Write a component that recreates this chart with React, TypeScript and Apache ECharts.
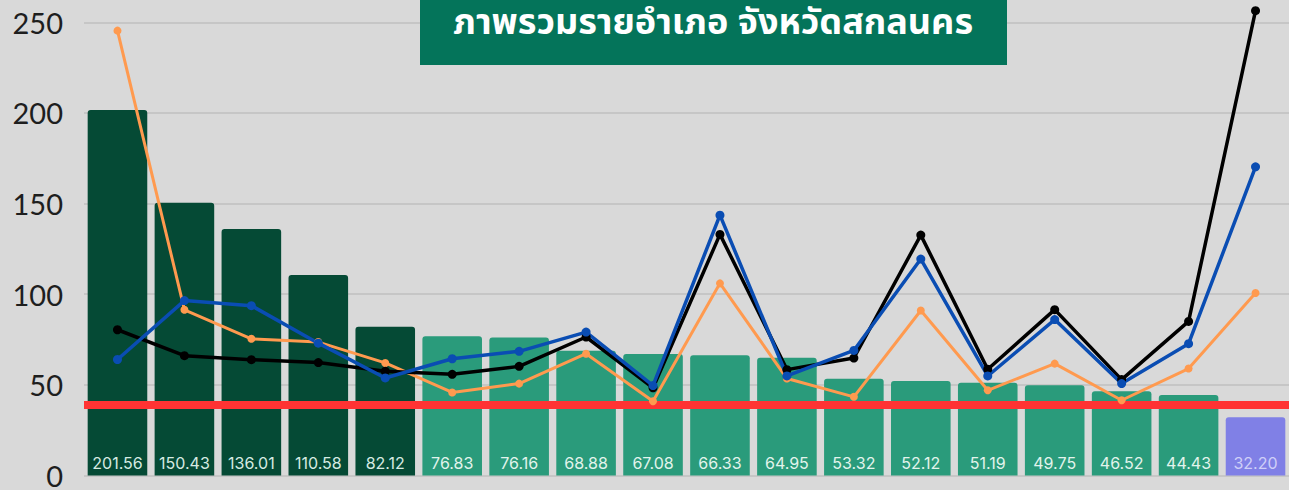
import React, { useEffect, useRef } from "react";
import * as echarts from "echarts";

const categories = [
  "1", "2", "3", "4", "5", "6", "7", "8", "9",
  "10", "11", "12", "13", "14", "15", "16", "17", "18",
];
const barValues = [
  201.56, 150.43, 136.01, 110.58, 82.12, 76.83, 76.16, 68.88, 67.08,
  66.33, 64.95, 53.32, 52.12, 51.19, 49.75, 46.52, 44.43, 32.2,
];
const barGroups = [
  "dark", "dark", "dark", "dark", "dark", "mid", "mid", "mid", "mid",
  "mid", "mid", "mid", "mid", "mid", "mid", "mid", "mid", "purple",
];
const blackLine = [
  80.4, 66.1, 63.9, 62.3, 57.5, 55.8, 60.2, 76.4, 48.4,
  133, 58.4, 64.8, 132.6, 58.6, 91.5, 52.9, 85, 256.4,
];
const blueLine = [
  64, 96.5, 93.7, 73, 53.8, 64.4, 68.5, 79.1, 49.6,
  143.6, 54.9, 69, 119.4, 54.9, 86, 50.7, 72.7, 170.3,
];
const orangeLine = [
  245.4, 91.4, 75.4, 73.6, 62.1, 45.8, 50.7, 67.2, 41,
  106, 53.5, 43.4, 91, 47, 61.7, 41.5, 59, 100.7,
];
const thresholdValue = 39;
const yTicks = { min: 0, max: 250, interval: 50 };
const titleText = "ภาพรวมรายอำเภอ จังหวัดสกลนคร";

const groupColors: Record<string, string> = {
  dark: "#054a35",
  mid: "#2a9b7b",
  purple: "#8080e6",
};
const labelColors: Record<string, string> = {
  dark: "#d6ebe2",
  mid: "#e2f4ec",
  purple: "#cfcff8",
};

export default function App() {
  const ref = useRef<HTMLDivElement>(null);
  useEffect(() => {
    if (!ref.current) return;
    const chart = echarts.init(ref.current, undefined, { renderer: "svg" });
    const lineCommon = {
      type: "line" as const,
      symbol: "circle",
      symbolSize: 9,
      clip: false,
      z: 5,
    };
    chart.setOption({
      animation: false,
      backgroundColor: "#d9d9d9",
      grid: { left: 84, top: 22.3, width: 1213, height: 455 },
      xAxis: {
        type: "category",
        data: categories,
        axisLine: { show: false },
        axisTick: { show: false },
        axisLabel: { show: false },
      },
      yAxis: {
        type: "value",
        min: yTicks.min,
        max: yTicks.max,
        interval: yTicks.interval,
        axisLine: { show: false },
        axisTick: { show: false },
        splitLine: { lineStyle: { color: "#bfbfbf", width: 1.5 } },
        axisLabel: {
          color: "#1e1e1e",
          fontSize: 29,
          fontFamily: "Lato, Inter, sans-serif",
          margin: 21,
        },
      },
      series: [
        {
          type: "bar",
          barCategoryGap: "11%",
          z: 2,
          data: barValues.map((v, i) => ({
            value: v,
            itemStyle: {
              color: groupColors[barGroups[i]],
              borderRadius: [3, 3, 0, 0],
            },
            label: { color: labelColors[barGroups[i]] },
          })),
          label: {
            show: true,
            position: "insideBottom",
            distance: 5,
            fontSize: 16,
            fontFamily: "Inter, Lato, sans-serif",
            formatter: (p: any) => Number(p.value).toFixed(2),
          },
          markLine: {
            silent: true,
            symbol: "none",
            label: { show: false },
            z: 3,
            lineStyle: { color: "#ff3333", width: 8, type: "solid" },
            data: [{ yAxis: thresholdValue }],
          },
        },
        {
          ...lineCommon,
          name: "orange",
          data: orangeLine,
          lineStyle: { color: "#ff9a4f", width: 3 },
          itemStyle: { color: "#ff9a4f" },
          symbolSize: 8,
        },
        {
          ...lineCommon,
          name: "black",
          data: blackLine,
          lineStyle: { color: "#000000", width: 3.5 },
          itemStyle: { color: "#000000" },
        },
        {
          ...lineCommon,
          name: "blue",
          data: blueLine,
          lineStyle: { color: "#0a4db3", width: 3.5 },
          itemStyle: { color: "#0a4db3" },
        },
      ],
      graphic: [
        {
          type: "rect",
          left: 420,
          top: 0,
          z: 100,
          shape: { x: 0, y: 0, width: 587, height: 65 },
          style: { fill: "#04745a" },
        },
        {
          type: "text",
          x: 713,
          y: 23,
          z: 101,
          style: {
            text: titleText,
            fill: "#ffffff",
            font: "bold 36px 'Noto Sans Thai', 'Noto Sans', sans-serif",
            textAlign: "center",
            textVerticalAlign: "middle",
          },
        },
      ],
    });
    return () => chart.dispose();
  }, []);
  return (
    <div
      ref={ref}
      style={{ position: "fixed", left: 0, top: 0, width: 1289, height: 490 }}
    />
  );
}
